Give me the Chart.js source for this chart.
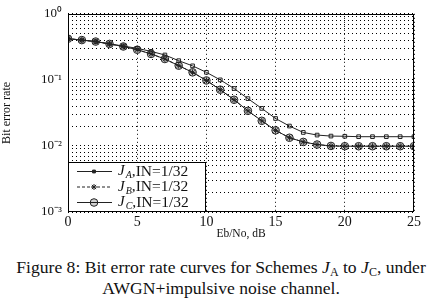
<!DOCTYPE html>
<html>
<head>
<meta charset="utf-8">
<script src="https://cdn.jsdelivr.net/npm/chart.js"></script>
<style>
  body { margin: 0; background: #fff; width: 442px; height: 306px; overflow: hidden; }
  #wrap { position: relative; width: 442px; height: 245px; }
  .cap {
    font-family: "Liberation Serif", serif; font-size: 17.6px; color: #111;
    text-align: center; line-height: 21px; margin-top: 12px;
  }
  .cap sub { font-size: 12px; vertical-align: -3px; line-height: 0; }
</style>
</head>
<body>
<div id="wrap"><canvas id="myChart" width="442" height="245"></canvas></div>
<div class="cap">Figure 8: Bit error rate curves for Schemes <i>J</i><sub>A</sub> to <i>J</i><sub>C</sub>, under<br>AWGN+impulsive noise channel.</div>

<script>
const ebno = [0, 1, 2, 3, 4, 5, 6, 7, 8, 9, 10, 11, 12, 13, 14, 15, 16, 17, 18, 19, 20, 21, 22, 23, 24, 25];

const berA = [0.42, 0.40, 0.38, 0.35, 0.325, 0.30, 0.27, 0.238, 0.195, 0.163, 0.130, 0.100, 0.074,
  0.052, 0.037, 0.026, 0.020, 0.016, 0.0146, 0.0141, 0.0140, 0.0138, 0.0138, 0.0138, 0.0138, 0.0138];
const berB = [0.42, 0.40, 0.38, 0.35, 0.32, 0.286, 0.247, 0.207, 0.164, 0.130, 0.098, 0.071, 0.050,
  0.034, 0.024, 0.0172, 0.0133, 0.0115, 0.0105, 0.0100, 0.0099, 0.0099, 0.0099, 0.0099, 0.0099, 0.0099];
const berC = [0.42, 0.40, 0.38, 0.35, 0.32, 0.286, 0.247, 0.207, 0.164, 0.130, 0.098, 0.071, 0.050,
  0.034, 0.024, 0.0172, 0.0133, 0.0115, 0.0105, 0.0100, 0.0099, 0.0099, 0.0099, 0.0099, 0.0099, 0.0099];

const schemes = ["A", "B", "C"];
const labelTail = ",IN=1/32";
const xTicks = [0, 5, 10, 15, 20, 25];
const yDecades = [1e-3, 1e-2, 1e-1, 1];
const yLabels = ["10\u207B\u00B3", "10\u207B\u00B2", "10\u207B\u00B9", "10\u2070"];

const serif = '"Liberation Serif", "Times New Roman", serif';

// draws the boxed legend inside the lower left corner of the plot
const boxLegend = {
  id: "boxLegend",
  afterDraw(chart) {
    const ctx = chart.ctx;
    const a = chart.chartArea;
    const w = 137, h = 50;
    const x0 = a.left, y0 = a.bottom - h;
    ctx.save();
    ctx.fillStyle = "#fff";
    ctx.fillRect(x0, y0, w, h);
    ctx.strokeStyle = "#000";
    ctx.lineWidth = 1;
    ctx.strokeRect(x0 + 0.5, y0 + 0.5, w, h - 1);
    chart.data.datasets.forEach((ds, i) => {
      const y = y0 + 9.5 + i * 15.5;
      ctx.strokeStyle = ds.borderColor;
      ctx.lineWidth = 1;
      ctx.setLineDash(ds.borderDash || []);
      ctx.beginPath();
      ctx.moveTo(x0 + 9, y);
      ctx.lineTo(x0 + 44, y);
      ctx.stroke();
      ctx.setLineDash([]);
      ctx.fillStyle = i === 0 ? "#222" : ds.pointBackgroundColor;
      ctx.strokeStyle = ds.pointBorderColor;
      Chart.helpers.drawPoint(ctx, { pointStyle: ds.pointStyle, radius: i === 0 ? 2 : ds.pointRadius, borderWidth: 1, rotation: 0 }, x0 + 26, y);
      ctx.fillStyle = "#111";
      ctx.textBaseline = "middle";
      let tx = x0 + 50;
      ctx.font = "italic 15px " + serif;
      ctx.fillText("J", tx, y);
      tx += ctx.measureText("J").width + 1;
      ctx.font = "italic 10px " + serif;
      ctx.fillText(schemes[i], tx, y + 4);
      tx += ctx.measureText(schemes[i]).width;
      ctx.font = "15.5px " + serif;
      ctx.fillText(labelTail, tx, y);
    });
    ctx.restore();
  }
};

// full black frame round the plot area
const frame = {
  id: "frame",
  afterDatasetsDraw(chart) {
    const ctx = chart.ctx;
    const a = chart.chartArea;
    ctx.save();
    ctx.strokeStyle = "#000";
    ctx.lineWidth = 1;
    ctx.strokeRect(Math.round(a.left) + 0.5, Math.round(a.top) + 0.5,
      Math.round(a.right - a.left) - 1, Math.round(a.bottom - a.top) - 1);
    ctx.restore();
  }
};

function series(data, dash, style, radius, fill) {
  return {
    data: data,
    borderColor: "#222",
    borderWidth: 1,
    borderDash: dash,
    pointStyle: style,
    pointRadius: radius,
    pointBorderWidth: 1,
    pointBorderColor: "#222",
    pointBackgroundColor: fill,
    tension: 0,
    fill: false
  };
}

new Chart("myChart", {
  type: "line",
  data: {
    labels: ebno,
    datasets: [
      series(berA, [], "rect", 2.6, "rgba(255,255,255,0)"),
      series(berB, [3, 2], "star", 3, "#222"),
      series(berC, [], "circle", 3.8, "rgba(0,0,0,0.18)")
    ]
  },
  options: {
    responsive: false,
    animation: false,
    devicePixelRatio: 1,
    layout: { padding: { top: 13, right: 28, left: 0, bottom: 0 } },
    plugins: { legend: { display: false }, tooltip: { enabled: false } },
    scales: {
      x: {
        type: "linear",
        min: 0,
        max: 25,
        afterBuildTicks: (s) => { s.ticks = xTicks.map((v) => ({ value: v })); },
        afterFit: (s) => { s.height = 33; },
        grid: { color: "#000", lineWidth: 1, drawTicks: false },
        border: { display: false, dash: [1, 3] },
        ticks: { color: "#111", font: { family: serif, size: 14 }, padding: 2, maxRotation: 0 },
        title: { display: true, text: "Eb/No, dB", color: "#111", font: { family: serif, size: 11.5 }, padding: { top: 0, bottom: 4 } }
      },
      y: {
        type: "logarithmic",
        min: 1e-3,
        max: 1,
        afterBuildTicks: (s) => {
          const t = [];
          yDecades.forEach((d, i) => {
            t.push({ value: d });
            if (i < yDecades.length - 1) for (let k = 2; k <= 9; k++) t.push({ value: d * k });
          });
          s.ticks = t;
        },
        afterFit: (s) => { s.width = 68; },
        grid: { color: "#000", lineWidth: 1, drawTicks: false },
        border: { display: false, dash: [1, 3] },
        ticks: {
          autoSkip: false,
          color: "#111",
          font: { family: serif, size: 13 },
          padding: 6,
          callback: (v) => {
            const i = yDecades.findIndex((d) => Math.abs(d - v) / d < 1e-6);
            return i >= 0 ? yLabels[i] : "";
          }
        },
        title: { display: true, text: "Bit error rate", color: "#111", font: { family: serif, size: 12 }, padding: { top: 0, bottom: 6 } }
      }
    }
  },
  plugins: [frame, boxLegend]
});
</script>
</body>
</html>
